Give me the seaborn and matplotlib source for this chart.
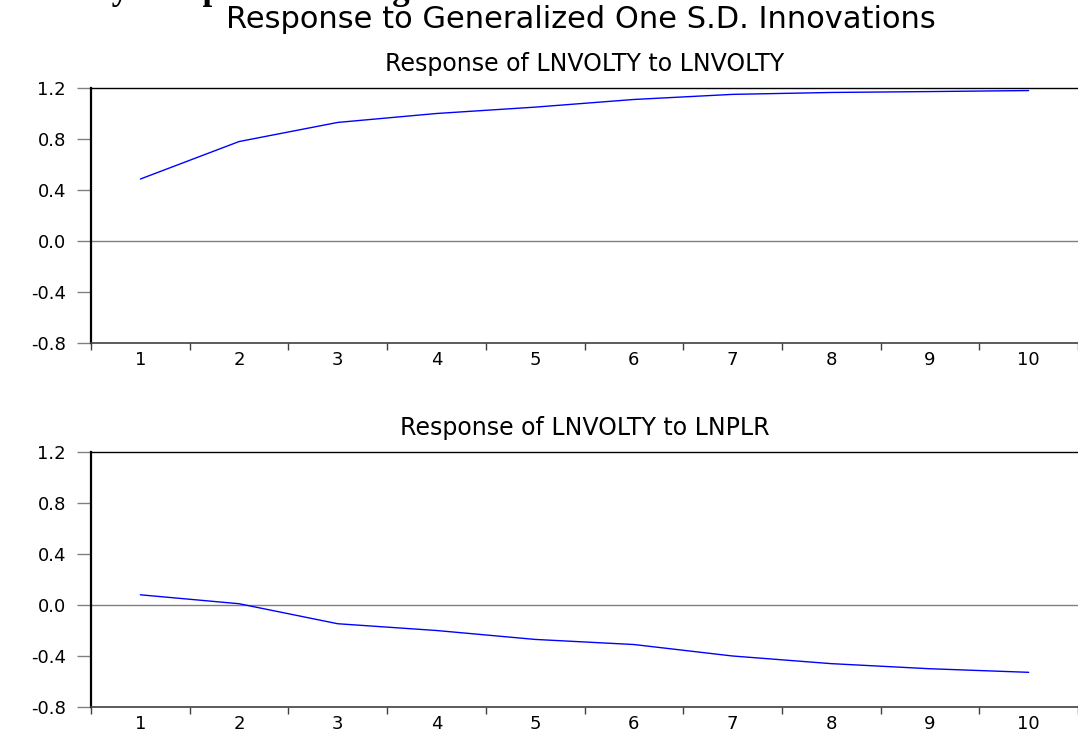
import numpy as np
import pandas as pd
import seaborn as sns
import matplotlib.pyplot as plt
from matplotlib.ticker import FixedLocator

periods = [1, 2, 3, 4, 5, 6, 7, 8, 9, 10]
resp_volty = [0.486, 0.78, 0.93, 1.00, 1.05, 1.11, 1.15, 1.165, 1.172, 1.18]
resp_plr = [0.08, 0.01, -0.147, -0.20, -0.27, -0.31, -0.40, -0.46, -0.50, -0.528]
panel_titles = ["Response of LNVOLTY to LNVOLTY", "Response of LNVOLTY to LNPLR"]
yticks = [-0.8, -0.4, 0.0, 0.4, 0.8, 1.2]

sns.set_style("white")
plt.rcParams['font.family'] = ['DejaVu Sans']
plt.rcParams['text.color'] = 'black'
plt.rcParams['xtick.color'] = 'black'
plt.rcParams['ytick.color'] = 'black'

W, H = 1078, 732
fig = plt.figure(figsize=(W / 100, H / 100), dpi=100)

# cut-off line of the surrounding document, only descenders show
fig.text(-2 / W, 1 + 1 / H, "volatility and prime lending rates.", family="Liberation Serif",
         fontweight="bold", fontsize=25, ha="left", va="baseline")

fig.text(581 / W, 1 - 20 / H, "Response to Generalized One S.D. Innovations",
         fontsize=22, ha="center", va="center")

panels = [(88, 343, resp_volty), (452, 707, resp_plr)]
for (top, bot, vals), title in zip(panels, panel_titles):
    ax = fig.add_axes([91 / W, 1 - bot / H, (W - 91) / W, (bot - top) / H])
    df = pd.DataFrame({"period": periods, "value": vals})
    sns.lineplot(data=df, x="period", y="value", ax=ax, color="#0000ff", linewidth=1.0)
    ax.axhline(0, color="#808080", linewidth=1.0, zorder=1)
    ax.set_xlim(0.5, 10.5)
    ax.set_ylim(-0.8, 1.2)
    ax.set_yticks(yticks)
    ax.set_yticklabels([f"{v:.1f}" for v in yticks])
    ax.set_xticks(periods)
    ax.xaxis.set_minor_locator(FixedLocator(np.arange(0.5, 10.6, 1.0)))
    ax.tick_params(axis="y", which="major", direction="out", length=10, width=1.0,
                   color="#808080", pad=8, labelsize=13, left=True)
    ax.tick_params(axis="x", which="major", length=0, pad=6, labelsize=13, bottom=True)
    ax.tick_params(axis="x", which="minor", direction="out", length=5, width=1.0,
                   color="#404040", bottom=True)
    ax.set_xlabel("")
    ax.set_ylabel("")
    ax.spines["left"].set_color("black")
    ax.spines["left"].set_linewidth(1.6)
    ax.spines["top"].set_color("black")
    ax.spines["top"].set_linewidth(1.0)
    ax.spines["bottom"].set_color("#404040")
    ax.spines["bottom"].set_linewidth(1.2)
    ax.spines["right"].set_visible(False)
    ax.set_title(title, fontsize=17, pad=12)

fig.savefig("out.png", dpi=100)
